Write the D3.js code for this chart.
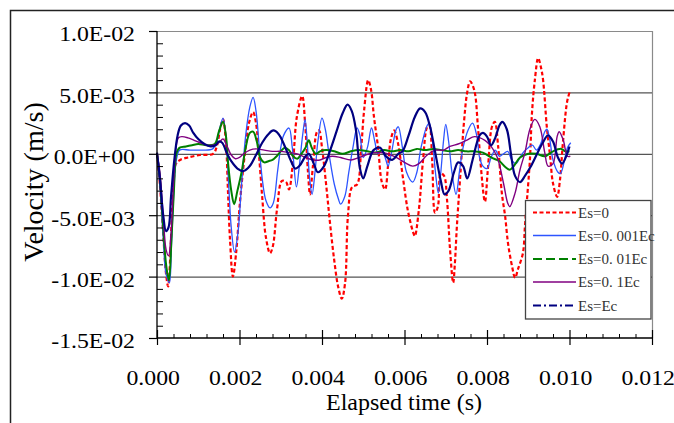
<!DOCTYPE html>
<html>
<head>
<meta charset="utf-8">
<script src="https://cdn.jsdelivr.net/npm/d3@7"></script>
<style>
  body { margin: 0; background: #fff; }
  svg { display: block; }
</style>
</head>
<body>
<div id="chart"></div>
<script>
// times in ms, velocities in 1e-3 m/s
var es0 = [[0,0],[0.07,-2.5],[0.15,-6.5],[0.22,-9.8],[0.27,-10.8],[0.32,-8.5],[0.36,-5.0],[0.41,-2.0],[0.46,-0.8],[0.56,-0.5],[0.75,-0.3],[1.04,-0.1],[1.36,0.0],[1.45,0.6],[1.53,2.0],[1.6,2.8],[1.67,1.0],[1.72,-3.0],[1.77,-7.0],[1.84,-10.0],[1.92,-8.0],[2.01,-4.0],[2.13,0.0],[2.23,2.5],[2.33,3.4],[2.4,2.5],[2.47,0.0],[2.55,-3.5],[2.64,-6.8],[2.74,-8.1],[2.81,-7.5],[2.91,-4.5],[3.03,-2.2],[3.13,-2.3],[3.2,-2.9],[3.3,-0.5],[3.39,3.0],[3.52,4.7],[3.59,2.5],[3.66,-1.5],[3.71,-3.3],[3.78,-1.0],[3.88,1.8],[3.93,1.9],[4.0,0.5],[4.1,-2.5],[4.19,-5.5],[4.29,-8.5],[4.39,-10.8],[4.48,-11.8],[4.56,-10.5],[4.63,-5.0],[4.73,-2.7],[4.85,-2.5],[4.95,0.5],[5.02,3.5],[5.12,6.0],[5.19,5.2],[5.26,3.0],[5.36,0.5],[5.45,-2.3],[5.53,-2.9],[5.6,-1.0],[5.67,1.2],[5.75,1.9],[5.84,0.9],[5.96,-1.9],[6.08,-4.6],[6.21,-6.4],[6.25,-6.7],[6.35,-4.5],[6.45,-0.5],[6.55,2.2],[6.6,2.3],[6.67,-0.5],[6.74,-4.8],[6.81,-4.3],[6.88,-1.6],[6.96,-1.8],[7.03,-3.7],[7.1,-7.6],[7.18,-10.5],[7.22,-9.0],[7.27,-5.9],[7.35,-1.9],[7.44,2.5],[7.52,5.0],[7.59,5.9],[7.69,5.2],[7.78,2.2],[7.85,-1.0],[7.95,-3.9],[8.02,-1.3],[8.12,2.2],[8.19,2.6],[8.27,0.6],[8.36,-3.2],[8.44,-5.1],[8.51,-7.3],[8.61,-9.2],[8.68,-10.1],[8.75,-9.4],[8.87,-8.1],[8.92,-5.9],[8.97,-3.7],[9.04,-0.5],[9.09,3.3],[9.16,6.0],[9.24,7.8],[9.31,7.0],[9.36,6.0],[9.45,2.2],[9.53,-0.2],[9.6,-2.4],[9.7,-3.5],[9.77,-2.1],[9.84,0.9],[9.94,4.2],[10.0,5.0]]

var es0001 = [[0,0],[0.07,-2.5],[0.15,-6.8],[0.22,-9.8],[0.3,-10.5],[0.35,-7.5],[0.41,-3.0],[0.47,-0.5],[0.55,0.3],[0.8,0.3],[1.1,0.3],[1.35,0.4],[1.45,1.0],[1.53,2.2],[1.6,2.9],[1.67,1.5],[1.73,-2.0],[1.8,-6.0],[1.88,-8.0],[1.96,-6.5],[2.05,-2.5],[2.15,1.5],[2.25,3.8],[2.33,4.6],[2.4,3.5],[2.48,0.5],[2.55,-2.0],[2.64,-3.8],[2.74,-4.4],[2.82,-4.0],[2.92,-1.5],[3.0,0.5],[3.07,1.5],[3.2,2.1],[3.28,0.5],[3.38,-2.7],[3.45,-1.0],[3.53,1.5],[3.59,2.8],[3.64,1.0],[3.7,-2.0],[3.76,-3.3],[3.83,-1.5],[3.9,1.0],[4.0,2.9],[4.08,2.0],[4.17,0.0],[4.3,-2.5],[4.4,-3.7],[4.45,-4.1],[4.55,-3.5],[4.65,-1.5],[4.75,0.5],[4.85,2.1],[4.92,1.5],[5.0,-0.3],[5.1,0.5],[5.2,2.1],[5.28,1.0],[5.36,0.0],[5.45,0.3],[5.55,-0.5],[5.6,-1.0],[5.68,0.0],[5.8,2.0],[5.85,2.2],[5.95,0.5],[6.05,-1.5],[6.2,-2.3],[6.3,-1.5],[6.4,0.5],[6.55,2.3],[6.6,2.5],[6.68,1.0],[6.75,-1.5],[6.82,-3.2],[6.88,-1.5],[6.95,1.2],[7.0,2.4],[7.07,1.0],[7.15,-1.5],[7.25,-3.3],[7.33,-1.5],[7.42,0.5],[7.55,2.0],[7.65,2.5],[7.75,1.5],[7.82,-0.3],[7.9,-1.0],[8.0,-1.2],[8.1,-0.3],[8.2,0.3],[8.3,-0.2],[8.4,0.0],[8.5,0.2],[8.6,-0.5],[8.7,-0.8],[8.8,-0.3],[8.9,0.2],[9.0,0.5],[9.1,0.7],[9.2,0.3],[9.3,0.8],[9.4,1.8],[9.45,2.0],[9.52,1.2],[9.6,-0.5],[9.72,-1.5],[9.78,-1.6],[9.88,-0.5],[9.95,0.5],[10.03,0.9]]

var es001 = [[0,0],[0.07,-2.0],[0.15,-6.0],[0.22,-9.0],[0.29,-10.3],[0.35,-7.0],[0.41,-3.0],[0.47,0.0],[0.55,0.5],[0.7,0.6],[0.85,0.7],[1.0,0.8],[1.2,0.7],[1.4,0.8],[1.5,1.8],[1.6,2.6],[1.67,1.5],[1.73,-1.0],[1.8,-3.0],[1.87,-4.1],[1.95,-3.0],[2.05,-1.5],[2.15,0.5],[2.25,1.7],[2.33,1.8],[2.42,1.0],[2.5,-0.3],[2.6,-0.7],[2.7,-0.6],[2.8,-0.5],[2.9,-0.2],[3.0,0.2],[3.1,0.5],[3.2,0.3],[3.3,-0.2],[3.4,-0.4],[3.5,0.0],[3.6,0.5],[3.68,1.1],[3.75,0.5],[3.85,0.0],[3.95,0.2],[4.1,0.3],[4.3,0.2],[4.5,0.0],[4.7,0.2],[4.9,0.3],[5.1,0.2],[5.3,0.1],[5.5,0.3],[5.7,0.2],[5.9,0.3],[6.1,0.2],[6.3,0.4],[6.5,0.3],[6.7,0.4],[6.9,0.3],[7.1,0.2],[7.3,0.3],[7.5,0.2],[7.7,0.2],[7.9,0.1],[8.1,-0.3],[8.3,-0.6],[8.45,-1.1],[8.55,-1.3],[8.65,-1.0],[8.8,-0.3],[9.0,0.0],[9.2,0.0],[9.4,-0.2],[9.6,0.2],[9.8,0.4],[9.9,0.2],[10.0,0.2]]

var es01 = [[0,0],[0.07,-1.5],[0.15,-5.0],[0.22,-7.8],[0.28,-8.3],[0.34,-6.5],[0.4,-2.5],[0.46,0.5],[0.52,1.3],[0.6,1.4],[0.75,1.3],[0.9,1.1],[1.05,0.9],[1.2,0.7],[1.35,0.7],[1.5,0.9],[1.6,1.2],[1.7,0.6],[1.8,-0.1],[1.9,-0.4],[2.0,-0.3],[2.1,0.0],[2.25,0.3],[2.4,0.4],[2.6,0.3],[2.8,0.2],[3.0,0.2],[3.2,0.1],[3.4,0.0],[3.6,-0.3],[3.8,-0.5],[3.95,-0.5],[4.1,-0.3],[4.25,-0.2],[4.45,-0.3],[4.7,-0.5],[4.9,-0.3],[5.15,0.0],[5.4,0.1],[5.6,0.0],[5.8,-0.3],[6.0,-0.7],[6.2,-1.0],[6.35,-0.8],[6.55,-0.1],[6.75,0.3],[6.95,0.3],[7.1,0.6],[7.3,0.8],[7.5,1.1],[7.7,1.4],[7.95,1.1],[8.1,0.6],[8.25,-0.3],[8.4,-2.4],[8.5,-4.0],[8.55,-4.3],[8.68,-3.2],[8.8,-1.3],[8.92,0.1],[9.04,2.0],[9.16,2.8],[9.28,2.2],[9.4,0.1],[9.48,-1.0],[9.6,-0.8],[9.7,1.4],[9.75,1.8],[9.85,1.1],[9.95,-0.2],[10.02,-0.2]]

var es1 = [[0,0.1],[0.07,-2.0],[0.15,-5.0],[0.22,-6.3],[0.28,-6.0],[0.34,-3.5],[0.42,-0.5],[0.5,1.5],[0.58,2.3],[0.68,2.5],[0.78,2.3],[0.88,1.7],[1.0,1.2],[1.15,0.8],[1.3,0.6],[1.42,0.7],[1.5,1.0],[1.58,0.9],[1.7,0.0],[1.8,-0.6],[1.95,-1.2],[2.1,-1.4],[2.25,-1.0],[2.4,-0.1],[2.55,0.9],[2.7,1.6],[2.82,1.9],[2.95,1.6],[3.1,0.6],[3.25,-0.6],[3.35,-1.2],[3.45,-1.0],[3.6,-0.2],[3.68,0.0],[3.8,-0.8],[3.9,-1.5],[4.05,-1.0],[4.2,0.3],[4.35,1.8],[4.5,3.3],[4.62,4.0],[4.72,3.5],[4.82,2.0],[4.92,-1.2],[5.0,-2.0],[5.1,-1.0],[5.25,0.3],[5.4,0.5],[5.55,-0.2],[5.7,-0.5],[5.85,0.0],[5.95,0.2],[6.1,1.5],[6.25,3.0],[6.38,3.7],[6.5,3.4],[6.62,2.2],[6.75,0.0],[6.88,-2.2],[6.97,-3.3],[7.07,-3.0],[7.2,-1.5],[7.3,-0.7],[7.42,-1.0],[7.52,-2.0],[7.65,-0.5],[7.82,1.5],[7.9,1.7],[8.0,1.4],[8.1,0.7],[8.2,1.3],[8.3,2.3],[8.37,2.6],[8.48,2.0],[8.58,0.0],[8.68,-1.8],[8.8,-2.3],[8.92,-1.8],[9.05,-1.1],[9.2,-0.1],[9.35,0.9],[9.48,1.5],[9.6,1.0],[9.72,-0.3],[9.82,-0.8],[9.92,-0.2],[10.0,0.6]]

var seriesNames = ["Es=0", "Es=0. 001Ec", "Es=0. 01Ec", "Es=0. 1Ec", "Es=Ec"]
var seriesData = [es0, es0001, es001, es01, es1]
var seriesColors = ["#ff0000", "#2d55ff", "#008000", "#800080", "#000080"]

var xTicks = [0, 2, 4, 6, 8, 10, 12]
var xTickLabels = ["0.000", "0.002", "0.004", "0.006", "0.008", "0.010", "0.012"]
var yTicks = [-15, -10, -5, 0, 5, 10]
var yTickLabels = ["-1.5E-02", "-1.0E-02", "-5.0E-03", "0.0E+00", "5.0E-03", "1.0E-02"]

var W = 674, H = 423
var pLeft = 157, pRight = 652, pTop = 31, pBottom = 338
var font = "'Liberation Serif', 'Times New Roman', serif"

var svg = d3.select("#chart")
    .append("svg")
    .attr("width", W)
    .attr("height", H)

var x = d3.scaleLinear().domain([0, 12]).range([pLeft, pRight])
var y = d3.scaleLinear().domain([-15, 10]).range([pBottom, pTop])

// outer frame of the chart object
svg.append("rect")
    .attr("x", 10.5).attr("y", 10.5)
    .attr("width", 720).attr("height", 500)
    .style("fill", "none")
    .style("stroke", "#222")
    .style("stroke-width", 1.5)

// plot area border (top, right)
svg.append("path")
    .attr("d", "M" + pLeft + "," + (pTop + 0.5) + "H" + (pRight + 0.5) + "V" + pBottom)
    .style("fill", "none")
    .style("stroke", "#8a8a8a")
    .style("stroke-width", 1.2)

// gridlines
var grid = svg.append("g").attr("class", "grid")
    .attr("transform", "translate(" + pLeft + ",0)")
    .call(d3.axisLeft(y).tickValues([-10, -5, 0, 5]).tickSize(-(pRight - pLeft)).tickFormat(""))
grid.select(".domain").remove()
grid.selectAll("line").style("stroke", "#555").style("stroke-width", 1.3)

// series lines
var line = d3.line()
    .x(function (d) { return x(d[0]) })
    .y(function (d) { return y(d[1]) })
    .curve(d3.curveCatmullRom.alpha(0.5))

var plotDash = ["4,2.5", null, null, null, null]
var widths = [2.2, 1.3, 2.0, 1.4, 2.2]

svg.append("g").attr("class", "series")
    .selectAll("path")
    .data(seriesData)
    .enter()
    .append("path")
    .attr("d", line)
    .style("fill", "none")
    .style("stroke", function (d, i) { return seriesColors[i] })
    .style("stroke-width", function (d, i) { return widths[i] })
    .style("stroke-dasharray", function (d, i) { return plotDash[i] })
    .style("stroke-linejoin", "round")

// y axis
var yAxis = svg.append("g")
    .attr("transform", "translate(" + pLeft + ",0)")
    .call(d3.axisLeft(y).tickValues(yTicks).tickSize(8).tickPadding(12.4)
        .tickFormat(function (d, i) { return yTickLabels[i] }))
yAxis.select(".domain").remove()
yAxis.selectAll("line").style("stroke", "#000").style("stroke-width", 1.2)
yAxis.selectAll("text")
    .attr("dy", "0.45em")
    .attr("transform", "scale(1.08,1)")
    .style("font-family", font)
    .style("font-size", "22px")
    .style("fill", "#000")

var yMinor = svg.append("g")
    .attr("transform", "translate(" + pLeft + ",0)")
    .call(d3.axisLeft(y).tickValues(d3.range(-14, 10, 1).filter(function (v) { return v % 5 !== 0 }))
        .tickSize(-6).tickFormat(""))
yMinor.select(".domain").remove()
yMinor.selectAll("line").style("stroke", "#000").style("stroke-width", 1)

// x axis
var xAxis = svg.append("g")
    .attr("transform", "translate(0," + pBottom + ")")
    .call(d3.axisBottom(x).tickValues(xTicks).tickSize(7)
        .tickFormat(function (d, i) { return xTickLabels[i] }))
xAxis.select(".domain").remove()
xAxis.selectAll("line").style("stroke", "#000").style("stroke-width", 1.2)
xAxis.selectAll("text")
    .attr("y", 47)
    .attr("dy", null)
    .attr("x", -4)
    .attr("transform", "scale(1.08,1)")
    .style("font-family", font)
    .style("font-size", "22px")
    .style("fill", "#000")

var xUp = svg.append("g")
    .attr("transform", "translate(0," + pBottom + ")")
    .call(d3.axisBottom(x).tickValues(xTicks).tickSize(-8).tickFormat(""))
xUp.select(".domain").remove()
xUp.selectAll("line").style("stroke", "#000").style("stroke-width", 1.2)

var xMinor = svg.append("g")
    .attr("transform", "translate(0," + pBottom + ")")
    .call(d3.axisBottom(x).tickValues(d3.range(0.4, 12, 0.4).filter(function (v) { return Math.abs(v / 2 - Math.round(v / 2)) > 0.01 }))
        .tickSize(-4).tickFormat(""))
xMinor.select(".domain").remove()
xMinor.selectAll("line").style("stroke", "#000").style("stroke-width", 1)

// axis lines
svg.append("path")
    .attr("d", "M" + pLeft + "," + pTop + "V" + pBottom + "H" + pRight)
    .style("fill", "none")
    .style("stroke", "#000")
    .style("stroke-width", 1.3)

// axis titles
svg.append("text")
    .attr("x", 404).attr("y", 410)
    .attr("text-anchor", "middle")
    .style("font-family", font)
    .style("font-size", "24px")
    .text("Elapsed time (s)")

svg.append("text")
    .attr("transform", "translate(43,182) rotate(-90)")
    .attr("text-anchor", "middle")
    .style("font-family", font)
    .style("font-size", "28px")
    .text("Velocity (m/s)")

// legend
var legendDash = ["4,2.5", null, "9,4", null, "8,3,2,3"]
var legendY = [212.5, 235.5, 259, 282, 305.5]
var legend = svg.append("g").attr("class", "legend")
legend.append("rect")
    .attr("x", 525.5).attr("y", 200.5)
    .attr("width", 125.5).attr("height", 118.5)
    .style("fill", "#fff")
    .style("stroke", "#444")
    .style("stroke-width", 1.3)

var items = legend.selectAll("g.item")
    .data(seriesNames)
    .enter()
    .append("g")
    .attr("class", "item")
    .attr("transform", function (d, i) { return "translate(0," + legendY[i] + ")" })
items.append("line")
    .attr("x1", 533).attr("x2", 576)
    .style("stroke", function (d, i) { return seriesColors[i] })
    .style("stroke-width", function (d, i) { return Math.min(widths[i], 2.2) })
    .style("stroke-dasharray", function (d, i) { return legendDash[i] })
items.append("text")
    .attr("x", 578)
    .attr("dy", "0.35em")
    .style("font-family", font)
    .style("font-size", "15px")
    .style("fill", "#333")
    .text(function (d) { return d })
</script>
</body>
</html>
